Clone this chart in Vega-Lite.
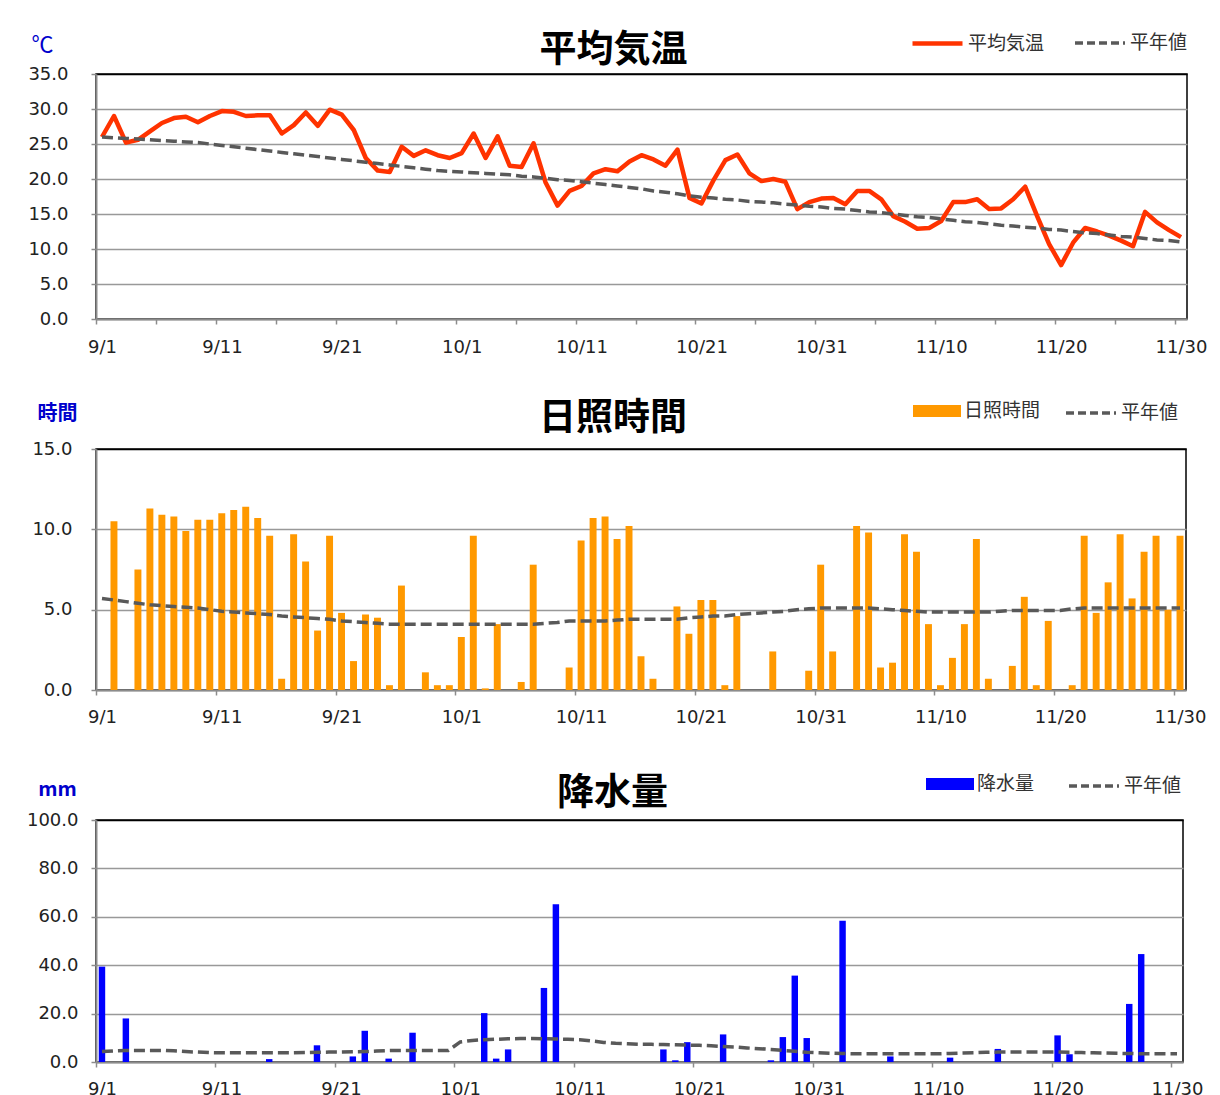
{
  "$schema": "https://vega.github.io/schema/vega-lite/v6.json",
  "background": "white",
  "padding": {"left": 25, "top": 15, "right": 0, "bottom": 0},
  "columns": 1,
  "align": "none",
  "spacing": 28,
  "config": {
    "view": {"stroke": "#000", "strokeWidth": 1.5},
    "font": "Noto Sans CJK JP",
    "axis": {
      "labelFont": "DejaVu Sans",
      "labelFontSize": 18,
      "labelColor": "#222",
      "domainColor": "#8c8c8c",
      "domainWidth": 2,
      "tickColor": "#8c8c8c",
      "tickWidth": 1.5,
      "tickSize": 5,
      "gridWidth": 1.5
    },
    "legend": {
      "labelFont": "Noto Sans CJK JP",
      "labelFontSize": 19,
      "labelColor": "#333",
      "padding": 0,
      "labelOffset": 3
    }
  },
  "resolve": {
    "scale": {"color": "independent", "stroke": "independent", "fill": "independent", "x": "independent", "y": "independent"},
    "legend": {"color": "independent", "stroke": "independent", "fill": "independent"}
  },
  "data": {
    "values": [
      {"d":"9/1","t":26.0,"tn":26.0,"s":0,"sn":5.7,"p":39.4,"pn":4.3},
      {"d":"9/2","t":29.0,"tn":25.9,"s":10.5,"sn":5.6,"p":0,"pn":4.6},
      {"d":"9/3","t":25.2,"tn":25.8,"s":0,"sn":5.5,"p":18.0,"pn":4.8},
      {"d":"9/4","t":25.6,"tn":25.7,"s":7.5,"sn":5.4,"p":0,"pn":4.8},
      {"d":"9/5","t":26.8,"tn":25.6,"s":11.3,"sn":5.3,"p":0,"pn":4.8},
      {"d":"9/6","t":28.0,"tn":25.5,"s":10.9,"sn":5.25,"p":0,"pn":4.8},
      {"d":"9/7","t":28.7,"tn":25.4,"s":10.8,"sn":5.2,"p":0,"pn":4.6},
      {"d":"9/8","t":28.9,"tn":25.3,"s":9.9,"sn":5.15,"p":0,"pn":4.3},
      {"d":"9/9","t":28.1,"tn":25.2,"s":10.6,"sn":5.1,"p":0,"pn":4.1},
      {"d":"9/10","t":29.0,"tn":25.0,"s":10.6,"sn":5.0,"p":0,"pn":3.9},
      {"d":"9/11","t":29.7,"tn":24.8,"s":11.0,"sn":4.9,"p":0,"pn":3.8},
      {"d":"9/12","t":29.6,"tn":24.6,"s":11.2,"sn":4.85,"p":0,"pn":3.8},
      {"d":"9/13","t":29.0,"tn":24.4,"s":11.4,"sn":4.8,"p":0,"pn":3.8},
      {"d":"9/14","t":29.1,"tn":24.2,"s":10.7,"sn":4.75,"p":0,"pn":3.8},
      {"d":"9/15","t":29.1,"tn":24.0,"s":9.6,"sn":4.7,"p":1.2,"pn":3.8},
      {"d":"9/16","t":26.5,"tn":23.8,"s":0.7,"sn":4.6,"p":0,"pn":3.8},
      {"d":"9/17","t":27.7,"tn":23.6,"s":9.7,"sn":4.55,"p":0,"pn":3.8},
      {"d":"9/18","t":29.5,"tn":23.4,"s":8.0,"sn":4.5,"p":0,"pn":3.9},
      {"d":"9/19","t":27.6,"tn":23.2,"s":3.7,"sn":4.45,"p":6.9,"pn":4.0},
      {"d":"9/20","t":29.9,"tn":23.0,"s":9.6,"sn":4.4,"p":0,"pn":4.1},
      {"d":"9/21","t":29.2,"tn":22.8,"s":4.8,"sn":4.3,"p":0,"pn":4.1},
      {"d":"9/22","t":27.0,"tn":22.6,"s":1.8,"sn":4.25,"p":2.3,"pn":4.2},
      {"d":"9/23","t":23.0,"tn":22.4,"s":4.7,"sn":4.2,"p":12.9,"pn":4.3},
      {"d":"9/24","t":21.2,"tn":22.2,"s":4.5,"sn":4.15,"p":0,"pn":4.5},
      {"d":"9/25","t":21.0,"tn":22.0,"s":0.3,"sn":4.1,"p":1.4,"pn":4.7},
      {"d":"9/26","t":24.6,"tn":21.8,"s":6.5,"sn":4.1,"p":0,"pn":4.8},
      {"d":"9/27","t":23.3,"tn":21.6,"s":0,"sn":4.1,"p":12.1,"pn":4.8},
      {"d":"9/28","t":24.1,"tn":21.4,"s":1.1,"sn":4.1,"p":0,"pn":4.8},
      {"d":"9/29","t":23.4,"tn":21.2,"s":0.3,"sn":4.1,"p":0,"pn":4.8},
      {"d":"9/30","t":23.0,"tn":21.1,"s":0.3,"sn":4.1,"p":0,"pn":4.8},
      {"d":"10/1","t":23.7,"tn":21.0,"s":3.3,"sn":4.1,"p":0,"pn":8.3},
      {"d":"10/2","t":26.5,"tn":20.9,"s":9.6,"sn":4.1,"p":0,"pn":8.9},
      {"d":"10/3","t":23.0,"tn":20.8,"s":0.1,"sn":4.1,"p":20.2,"pn":9.2},
      {"d":"10/4","t":26.1,"tn":20.7,"s":4.1,"sn":4.1,"p":1.4,"pn":9.4},
      {"d":"10/5","t":21.9,"tn":20.6,"s":0,"sn":4.1,"p":5.2,"pn":9.6},
      {"d":"10/6","t":21.7,"tn":20.4,"s":0.5,"sn":4.1,"p":0,"pn":9.7},
      {"d":"10/7","t":25.1,"tn":20.3,"s":7.8,"sn":4.1,"p":0,"pn":9.7},
      {"d":"10/8","t":19.5,"tn":20.1,"s":0,"sn":4.15,"p":30.6,"pn":9.6},
      {"d":"10/9","t":16.2,"tn":19.9,"s":0,"sn":4.2,"p":65.2,"pn":9.5},
      {"d":"10/10","t":18.3,"tn":19.8,"s":1.4,"sn":4.3,"p":0,"pn":9.4},
      {"d":"10/11","t":19.0,"tn":19.6,"s":9.3,"sn":4.3,"p":0,"pn":9.2},
      {"d":"10/12","t":20.8,"tn":19.4,"s":10.7,"sn":4.3,"p":0,"pn":8.7},
      {"d":"10/13","t":21.4,"tn":19.2,"s":10.8,"sn":4.3,"p":0,"pn":8.1},
      {"d":"10/14","t":21.1,"tn":19.0,"s":9.4,"sn":4.35,"p":0,"pn":7.7},
      {"d":"10/15","t":22.5,"tn":18.8,"s":10.2,"sn":4.4,"p":0,"pn":7.5},
      {"d":"10/16","t":23.4,"tn":18.6,"s":2.1,"sn":4.4,"p":0,"pn":7.3},
      {"d":"10/17","t":22.8,"tn":18.3,"s":0.7,"sn":4.4,"p":0,"pn":7.3},
      {"d":"10/18","t":21.9,"tn":18.1,"s":0,"sn":4.4,"p":5.2,"pn":7.2},
      {"d":"10/19","t":24.2,"tn":17.9,"s":5.2,"sn":4.4,"p":0.7,"pn":7.1},
      {"d":"10/20","t":17.3,"tn":17.6,"s":3.5,"sn":4.5,"p":8.2,"pn":7.0},
      {"d":"10/21","t":16.5,"tn":17.4,"s":5.6,"sn":4.55,"p":0,"pn":6.9},
      {"d":"10/22","t":19.8,"tn":17.3,"s":5.6,"sn":4.6,"p":0,"pn":6.7},
      {"d":"10/23","t":22.7,"tn":17.1,"s":0.3,"sn":4.6,"p":11.4,"pn":6.4},
      {"d":"10/24","t":23.5,"tn":17.0,"s":4.6,"sn":4.7,"p":0,"pn":6.2},
      {"d":"10/25","t":20.8,"tn":16.8,"s":0,"sn":4.75,"p":0,"pn":5.8},
      {"d":"10/26","t":19.7,"tn":16.7,"s":0,"sn":4.8,"p":0,"pn":5.5},
      {"d":"10/27","t":20.0,"tn":16.6,"s":2.4,"sn":4.85,"p":0.7,"pn":5.2},
      {"d":"10/28","t":19.6,"tn":16.4,"s":0,"sn":4.9,"p":10.3,"pn":4.8},
      {"d":"10/29","t":15.7,"tn":16.3,"s":0,"sn":5.0,"p":35.7,"pn":4.4},
      {"d":"10/30","t":16.7,"tn":16.1,"s":1.2,"sn":5.05,"p":9.9,"pn":4.0},
      {"d":"10/31","t":17.2,"tn":16.0,"s":7.8,"sn":5.1,"p":0,"pn":3.8},
      {"d":"11/1","t":17.3,"tn":15.8,"s":2.4,"sn":5.1,"p":0,"pn":3.6},
      {"d":"11/2","t":16.4,"tn":15.7,"s":0,"sn":5.1,"p":58.4,"pn":3.5},
      {"d":"11/3","t":18.3,"tn":15.5,"s":10.2,"sn":5.1,"p":0,"pn":3.4},
      {"d":"11/4","t":18.3,"tn":15.3,"s":9.8,"sn":5.1,"p":0,"pn":3.4},
      {"d":"11/5","t":17.1,"tn":15.2,"s":1.4,"sn":5.05,"p":0,"pn":3.4},
      {"d":"11/6","t":14.7,"tn":15.0,"s":1.7,"sn":5.0,"p":2.3,"pn":3.4},
      {"d":"11/7","t":13.9,"tn":14.8,"s":9.7,"sn":4.95,"p":0,"pn":3.4},
      {"d":"11/8","t":12.9,"tn":14.6,"s":8.6,"sn":4.9,"p":0,"pn":3.4},
      {"d":"11/9","t":13.0,"tn":14.5,"s":4.1,"sn":4.85,"p":0,"pn":3.4},
      {"d":"11/10","t":14.0,"tn":14.3,"s":0.3,"sn":4.85,"p":0,"pn":3.4},
      {"d":"11/11","t":16.7,"tn":14.1,"s":2.0,"sn":4.85,"p":1.8,"pn":3.5},
      {"d":"11/12","t":16.7,"tn":13.9,"s":4.1,"sn":4.85,"p":0,"pn":3.7},
      {"d":"11/13","t":17.1,"tn":13.8,"s":9.4,"sn":4.85,"p":0,"pn":3.8},
      {"d":"11/14","t":15.7,"tn":13.6,"s":0.7,"sn":4.85,"p":0,"pn":4.0},
      {"d":"11/15","t":15.8,"tn":13.4,"s":0,"sn":4.9,"p":5.4,"pn":4.1},
      {"d":"11/16","t":17.1,"tn":13.3,"s":1.5,"sn":4.95,"p":0,"pn":4.1},
      {"d":"11/17","t":18.9,"tn":13.1,"s":5.8,"sn":4.95,"p":0,"pn":4.1},
      {"d":"11/18","t":14.7,"tn":13.0,"s":0.3,"sn":4.95,"p":0,"pn":4.1},
      {"d":"11/19","t":10.7,"tn":12.8,"s":4.3,"sn":4.95,"p":0,"pn":4.1},
      {"d":"11/20","t":7.7,"tn":12.7,"s":0,"sn":4.95,"p":11.0,"pn":4.1},
      {"d":"11/21","t":10.9,"tn":12.5,"s":0.3,"sn":5.05,"p":3.2,"pn":4.0},
      {"d":"11/22","t":13.0,"tn":12.3,"s":9.6,"sn":5.1,"p":0,"pn":3.9},
      {"d":"11/23","t":12.5,"tn":12.2,"s":4.8,"sn":5.1,"p":0,"pn":3.8},
      {"d":"11/24","t":11.9,"tn":12.0,"s":6.7,"sn":5.1,"p":0,"pn":3.7},
      {"d":"11/25","t":11.2,"tn":11.8,"s":9.7,"sn":5.1,"p":0,"pn":3.6},
      {"d":"11/26","t":10.4,"tn":11.7,"s":5.7,"sn":5.1,"p":24.0,"pn":3.5},
      {"d":"11/27","t":15.3,"tn":11.5,"s":8.6,"sn":5.1,"p":44.6,"pn":3.4},
      {"d":"11/28","t":13.8,"tn":11.3,"s":9.6,"sn":5.1,"p":0,"pn":3.4},
      {"d":"11/29","t":12.7,"tn":11.2,"s":5.0,"sn":5.1,"p":0,"pn":3.4},
      {"d":"11/30","t":11.7,"tn":11.0,"s":9.6,"sn":5.1,"p":0,"pn":3.4}
    ]
  },
  "concat": [
    {
      "width": 1091,
      "height": 245,
      "title": {"text": "平均気温", "fontSize": 37, "fontWeight": "bold", "color": "#000", "anchor": "middle", "frame": "group", "dx": -28, "offset": -54},
      "encoding": {
        "x": {
          "field": "d", "type": "ordinal", "sort": null,
          "scale": {"type": "band", "paddingInner": 0, "paddingOuter": 0},
          "axis": {
            "title": null, "labelAngle": 0, "grid": false, "bandPosition": 0.5, "tickOffset": -6, "labelOffset": 6,
            "labelPadding": 14, "labelOverlap": false,
            "values": ["9/1","9/6","9/11","9/16","9/21","9/26","10/1","10/6","10/11","10/16","10/21","10/26","10/31","11/5","11/10","11/15","11/20","11/25","11/30"],
            "labelExpr": "indexof(['9/1','9/11','9/21','10/1','10/11','10/21','10/31','11/10','11/20','11/30'], datum.value) >= 0 ? datum.value : ''"
          }
        }
      },
      "layer": [
        {
          "mark": {"type": "line", "strokeWidth": 4.5, "strokeJoin": "round"},
          "encoding": {
            "y": {"field": "t", "type": "quantitative", "scale": {"domain": [0, 35], "nice": false},
              "axis": {"title": "℃", "titleAngle": 0, "titleX": -54, "titleY": -30, "titleAlign": "center", "titleBaseline": "middle", "titleColor": "#0000cc", "titleFontSize": 22, "titleFontWeight": "normal", "values": [0,5,10,15,20,25,30,35], "format": ".1f", "labelPadding": 23, "gridColor": {"condition": {"test": "datum.value == 35", "value": "#000"}, "value": "#999"}}},
            "color": {"datum": "平均気温", "scale": {"range": ["#ff3300"]}, "legend": {"title": null, "orient": "none", "legendX": 814, "legendY": -58, "symbolType": "stroke", "symbolSize": 2500, "symbolStrokeWidth": 4.5}}
          }
        },
        {
          "mark": {"type": "line", "strokeWidth": 3.5, "strokeDash": [11, 5]},
          "encoding": {
            "y": {"field": "tn", "type": "quantitative", "scale": {"domain": [0, 35], "nice": false},
              "axis": {"title": "℃", "titleAngle": 0, "titleX": -54, "titleY": -30, "titleAlign": "center", "titleBaseline": "middle", "titleColor": "#0000cc", "titleFontSize": 22, "titleFontWeight": "normal", "values": [0,5,10,15,20,25,30,35], "format": ".1f", "labelPadding": 23, "gridColor": {"condition": {"test": "datum.value == 35", "value": "#000"}, "value": "#999"}}},
            "stroke": {"datum": "平年値", "scale": {"range": ["#595959"]}, "legend": {"title": null, "orient": "none", "legendX": 977, "legendY": -58, "symbolType": "stroke", "symbolSize": 2500, "symbolStrokeWidth": 3.5, "symbolDash": [8, 4]}}
          }
        }
      ]
    },
    {
      "width": 1090,
      "height": 241,
      "title": {"text": "日照時間", "fontSize": 37, "fontWeight": "bold", "color": "#000", "anchor": "middle", "frame": "group", "dx": -28, "offset": -52},
      "encoding": {
        "x": {
          "field": "d", "type": "ordinal", "sort": null,
          "scale": {"type": "band", "paddingInner": 0.42, "paddingOuter": 0.21},
          "axis": {
            "title": null, "labelAngle": 0, "grid": false, "bandPosition": 0.5, "tickOffset": -6, "labelOffset": 6,
            "labelPadding": 13, "labelOverlap": false,
            "values": ["9/1","9/11","9/21","10/1","10/11","10/21","10/31","11/10","11/20","11/30"]
          }
        }
      },
      "layer": [
        {
          "mark": {"type": "bar"},
          "encoding": {
            "y": {"field": "s", "type": "quantitative", "scale": {"domain": [0, 15], "nice": false},
              "axis": {"title": "時間", "titleAngle": 0, "titleX": -39, "titleY": -36, "titleAlign": "center", "titleBaseline": "middle", "titleColor": "#0000cc", "titleFontSize": 20, "titleFontWeight": "bold", "values": [0,5,10,15], "format": ".1f", "labelPadding": 19, "gridColor": {"condition": {"test": "datum.value == 15", "value": "#000"}, "value": "#999"}}},
            "fill": {"datum": "日照時間", "scale": {"range": ["#ff9900"]}, "legend": {"title": null, "orient": "none", "legendX": 817, "legendY": -62, "symbolType": "M-1,-0.25H1V0.25H-1Z", "symbolSize": 2304, "symbolStrokeWidth": 0}}
          }
        },
        {
          "mark": {"type": "line", "strokeWidth": 3.5, "strokeDash": [11, 5]},
          "encoding": {
            "y": {"field": "sn", "type": "quantitative", "scale": {"domain": [0, 15], "nice": false},
              "axis": {"title": "時間", "titleAngle": 0, "titleX": -39, "titleY": -36, "titleAlign": "center", "titleBaseline": "middle", "titleColor": "#0000cc", "titleFontSize": 20, "titleFontWeight": "bold", "values": [0,5,10,15], "format": ".1f", "labelPadding": 19, "gridColor": {"condition": {"test": "datum.value == 15", "value": "#000"}, "value": "#999"}}},
            "stroke": {"datum": "平年値", "scale": {"range": ["#595959"]}, "legend": {"title": null, "orient": "none", "legendX": 968, "legendY": -63, "symbolType": "stroke", "symbolSize": 2500, "symbolStrokeWidth": 3.5, "symbolDash": [8, 4]}}
          }
        }
      ]
    },
    {
      "width": 1087,
      "height": 242,
      "title": {"text": "降水量", "fontSize": 37, "fontWeight": "bold", "color": "#000", "anchor": "middle", "frame": "group", "dx": -27, "offset": -57},
      "encoding": {
        "x": {
          "field": "d", "type": "ordinal", "sort": null,
          "scale": {"type": "band", "paddingInner": 0.46, "paddingOuter": 0.23},
          "axis": {
            "title": null, "labelAngle": 0, "grid": false, "bandPosition": 0.5, "tickOffset": -6, "labelOffset": 6,
            "labelPadding": 13, "labelOverlap": false,
            "values": ["9/1","9/11","9/21","10/1","10/11","10/21","10/31","11/10","11/20","11/30"]
          }
        }
      },
      "layer": [
        {
          "mark": {"type": "bar"},
          "encoding": {
            "y": {"field": "p", "type": "quantitative", "scale": {"domain": [0, 100], "nice": false},
              "axis": {"title": "mm", "titleAngle": 0, "titleX": -39, "titleY": -31, "titleAlign": "center", "titleBaseline": "middle", "titleColor": "#0000cc", "titleFontSize": 20, "titleFontWeight": "bold", "values": [0,20,40,60,80,100], "format": ".1f", "labelPadding": 13, "gridColor": {"condition": {"test": "datum.value == 100", "value": "#000"}, "value": "#999"}}},
            "fill": {"datum": "降水量", "scale": {"range": ["#0000ff"]}, "legend": {"title": null, "orient": "none", "legendX": 830, "legendY": -60, "symbolType": "M-1,-0.25H1V0.25H-1Z", "symbolSize": 2304, "symbolStrokeWidth": 0}}
          }
        },
        {
          "mark": {"type": "line", "strokeWidth": 3.5, "strokeDash": [11, 5]},
          "encoding": {
            "y": {"field": "pn", "type": "quantitative", "scale": {"domain": [0, 100], "nice": false},
              "axis": {"title": "mm", "titleAngle": 0, "titleX": -39, "titleY": -31, "titleAlign": "center", "titleBaseline": "middle", "titleColor": "#0000cc", "titleFontSize": 20, "titleFontWeight": "bold", "values": [0,20,40,60,80,100], "format": ".1f", "labelPadding": 13, "gridColor": {"condition": {"test": "datum.value == 100", "value": "#000"}, "value": "#999"}}},
            "stroke": {"datum": "平年値", "scale": {"range": ["#595959"]}, "legend": {"title": null, "orient": "none", "legendX": 968, "legendY": -64, "padding": 3, "symbolType": "stroke", "symbolSize": 2500, "symbolStrokeWidth": 3.5, "symbolDash": [8, 4]}}
          }
        }
      ]
    }
  ]
}
